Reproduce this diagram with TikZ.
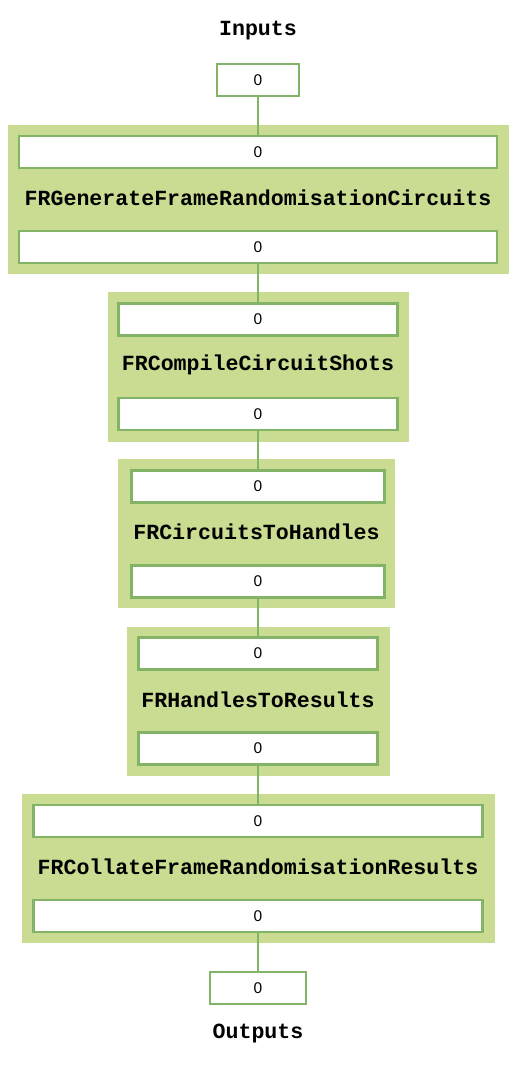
\documentclass[tikz,border=0pt]{standalone}
\usepackage{fontspec}
\newfontfamily\monob[BoldFont={Liberation Mono Bold}]{Liberation Mono}
\newfontfamily\sansf{Liberation Sans}
\definecolor{grfill}{RGB}{201,220,146}
\definecolor{grline}{RGB}{130,179,102}
\tikzset{
  outerbox/.style={fill=grfill, draw=none, inner sep=0pt},
  port/.style={fill=white, draw=grline, line width=2.2pt, inner sep=0pt, minimum height=32pt, font=\sansf\fontsize{15.5}{15.5}\selectfont},
  boxlabel/.style={inner sep=0pt, font=\monob\bfseries\fontsize{21.6}{22}\selectfont},
  conn/.style={draw=grline, line width=2.5pt}
}
\begin{document}
\begin{tikzpicture}[x=1pt,y=-1pt]
\useasboundingbox (0,0) rectangle (517,1069);
% title
\node[boxlabel] (inlabel) at (258,31) {Inputs};
\node[port, minimum width=82pt] (in) at (258,80) {0};
% box 1
\node[outerbox, minimum width=501pt, minimum height=149pt] (b1) at (258.5,199.5) {};
\node[port, minimum width=478pt] (b1i) at (258,152) {0};
\node[boxlabel] (b1l) at (258,198) {FRGenerateFrameRandomisationCircuits};
\node[port, minimum width=478pt] (b1o) at (258,247) {0};
% box 2
\node[outerbox, minimum width=301pt, minimum height=150pt] (b2) at (258.5,367) {};
\node[port, minimum width=279pt] (b2i) at (258,319.5) {0};
\node[boxlabel] (b2l) at (258,365) {FRCompileCircuitShots};
\node[port, minimum width=279pt] (b2o) at (258,414) {0};
% box 3
\node[outerbox, minimum width=277pt, minimum height=149pt] (b3) at (256.5,533.5) {};
\node[port, minimum width=253pt] (b3i) at (258,486.5) {0};
\node[boxlabel] (b3l) at (256.5,532) {FRCircuitsToHandles};
\node[port, minimum width=253pt] (b3o) at (258,581.5) {0};
% box 4
\node[outerbox, minimum width=263pt, minimum height=149pt] (b4) at (258.5,701.5) {};
\node[port, minimum width=239pt] (b4i) at (258,653.5) {0};
\node[boxlabel] (b4l) at (258,700) {FRHandlesToResults};
\node[port, minimum width=239pt] (b4o) at (258,748.5) {0};
% box 5
\node[outerbox, minimum width=473pt, minimum height=149pt] (b5) at (258.5,868.5) {};
\node[port, minimum width=449pt] (b5i) at (258,821) {0};
\node[boxlabel] (b5l) at (258,867) {FRCollateFrameRandomisationResults};
\node[port, minimum width=449pt] (b5o) at (258,916) {0};
% output
\node[port, minimum width=96pt] (out) at (258,988) {0};
\node[boxlabel] (outlabel) at (258,1034) {Outputs};
% connectors
\draw[conn] (in.south) -- (b1i.north);
\draw[conn] (b1o.south) -- (b2i.north);
\draw[conn] (b2o.south) -- (b3i.north);
\draw[conn] (b3o.south) -- (b4i.north);
\draw[conn] (b4o.south) -- (b5i.north);
\draw[conn] (b5o.south) -- (out.north);
\end{tikzpicture}
\end{document}
